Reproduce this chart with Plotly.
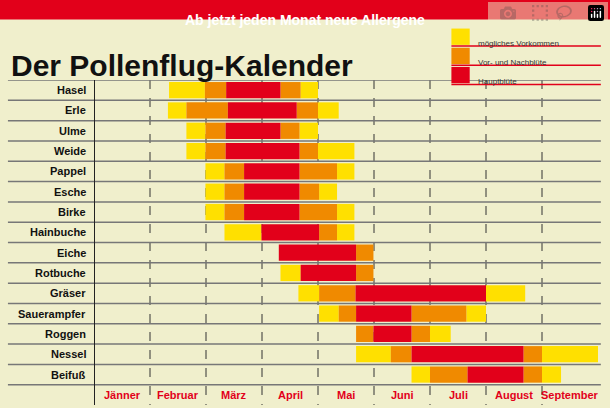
import plotly.graph_objects as go

plants = ["Hasel", "Erle", "Ulme", "Weide", "Pappel", "Esche", "Birke", "Hainbuche",
          "Eiche", "Rotbuche", "Gräser", "Sauerampfer", "Roggen", "Nessel", "Beifuß"]
months = ["Jänner", "Februar", "März", "April", "Mai", "Juni", "Juli", "August", "September"]

# segment boundaries in months (0 = start of Jänner) and the phase of each segment
# phase: 0 = mögliches Vorkommen, 1 = Vor- und Nachblüte, 2 = Hauptblüte
bounds = [
    [1.34, 1.98, 2.36, 3.33, 3.69, 4.0],
    [1.32, 1.65, 2.39, 3.62, 4.0, 4.37],
    [1.65, 1.99, 2.35, 3.33, 3.67, 4.0],
    [1.65, 1.99, 2.35, 3.67, 4.0, 4.65],
    [1.99, 2.33, 2.68, 3.67, 4.34, 4.65],
    [1.99, 2.33, 2.68, 3.67, 4.02, 4.34],
    [1.99, 2.33, 2.68, 3.67, 4.34, 4.65],
    [2.33, 2.99, 4.02, 4.34, 4.65],
    [3.30, 4.68, 4.99],
    [3.33, 3.69, 4.68, 4.99],
    [3.65, 4.02, 4.67, 7.0, 7.7],
    [4.02, 4.37, 4.68, 5.67, 6.65, 7.0],
    [4.68, 4.99, 5.67, 6.0, 6.37],
    [4.68, 5.30, 5.67, 7.67, 8.0, 9.0],
    [5.67, 6.0, 6.67, 7.67, 8.0, 8.34],
]
phases = [
    [0, 1, 2, 1, 0], [0, 1, 2, 1, 0], [0, 1, 2, 1, 0], [0, 1, 2, 1, 0],
    [0, 1, 2, 1, 0], [0, 1, 2, 1, 0], [0, 1, 2, 1, 0], [0, 2, 1, 0],
    [2, 1], [0, 2, 1], [0, 1, 2, 0], [0, 1, 2, 1, 0], [1, 2, 1, 0],
    [0, 1, 2, 1, 0], [0, 1, 2, 1, 0],
]
legend_names = ["mögliches Vorkommen", "Vor- und Nachblüte", "Hauptblüte"]
colors = ["#ffe000", "#f08a00", "#e2001a"]
FONT = "Liberation Sans"

fig = go.Figure()
for p in range(3):
    ys, bases, widths = [], [], []
    for i, (b, ph) in enumerate(zip(bounds, phases)):
        for k, v in enumerate(ph):
            if v == p:
                ys.append(i)
                bases.append(b[k])
                widths.append(b[k + 1] - b[k])
    fig.add_trace(go.Bar(y=ys, x=widths, base=bases, orientation="h", width=0.8,
                         marker=dict(color=colors[p], line_width=0), showlegend=False))

shapes = []
# horizontal row separators
for i in range(16):
    shapes.append(dict(type="line", xref="paper", yref="y", x0=0.013, x1=0.985,
                       y0=i - 0.5, y1=i - 0.5, line=dict(color="#777777", width=1.5)))
# month boundaries
for m in range(1, 9):
    shapes.append(dict(type="line", xref="x", yref="y", x0=m, x1=m, y0=-0.5, y1=15.5,
                       line=dict(color="#333333", width=1, dash="dash"), layer="below"))
shapes.append(dict(type="line", xref="x", yref="y", x0=0, x1=0, y0=-0.5, y1=15.5,
                   line=dict(color="#222222", width=2)))
# top banner
shapes.append(dict(type="rect", xref="paper", yref="paper", x0=0, x1=1, y0=0.952, y1=1.0,
                   fillcolor="#e2001a", line_width=0, layer="below"))
# legend boxes
for k in range(3):
    y0 = 0.93 - k * 0.047
    shapes.append(dict(type="rect", xref="paper", yref="paper", x0=0.74, x1=0.77,
                       y0=y0 - 0.04, y1=y0, fillcolor=colors[k], line_width=0))
    shapes.append(dict(type="line", xref="paper", yref="paper", x0=0.74, x1=0.985,
                       y0=y0 - 0.043, y1=y0 - 0.043, line=dict(color="#e2001a", width=1.5)))

ann = []
for i, name in enumerate(plants):
    ann.append(dict(text="<b>" + name + "</b>", xref="paper", yref="y", x=0.145, y=i,
                    xanchor="right", showarrow=False,
                    font=dict(family=FONT, size=11, color="#111111")))
for m, name in enumerate(months):
    ann.append(dict(text="<b>" + name + "</b>", xref="x", yref="y", x=m + 0.5, y=15,
                    showarrow=False, font=dict(family=FONT, size=11, color="#e2001a")))
for k in range(3):
    ann.append(dict(text=legend_names[k], xref="paper", yref="paper", x=0.78, y=0.93 - k * 0.047 - 0.02,
                    xanchor="left", showarrow=False,
                    font=dict(family=FONT, size=8, color="#333333")))
ann.append(dict(text="<b>Ab jetzt jeden Monat neue Allergene</b>", xref="paper", yref="paper",
                x=0.5, y=0.976, showarrow=False,
                font=dict(family=FONT, size=14, color="white")))
ann.append(dict(text="<b>Der Pollenflug-Kalender</b>", xref="paper", yref="paper",
                x=0.015, y=0.885, xanchor="left", showarrow=False,
                font=dict(family=FONT, size=30, color="#111111")))

fig.update_layout(
    width=610, height=408, margin=dict(l=0, r=0, t=0, b=0),
    paper_bgcolor="#f0efcc", plot_bgcolor="rgba(0,0,0,0)",
    barmode="overlay", shapes=shapes, annotations=ann,
    xaxis=dict(range=[0, 9], domain=[94 / 610, 598 / 610], showgrid=False, zeroline=False,
               showticklabels=False, fixedrange=True),
    yaxis=dict(range=[15.5, -0.5], domain=[3 / 408, 328 / 408], showgrid=False, zeroline=False,
               showticklabels=False, fixedrange=True),
)
fig.write_html("out.html", post_script="document.body.style.margin='0';")
